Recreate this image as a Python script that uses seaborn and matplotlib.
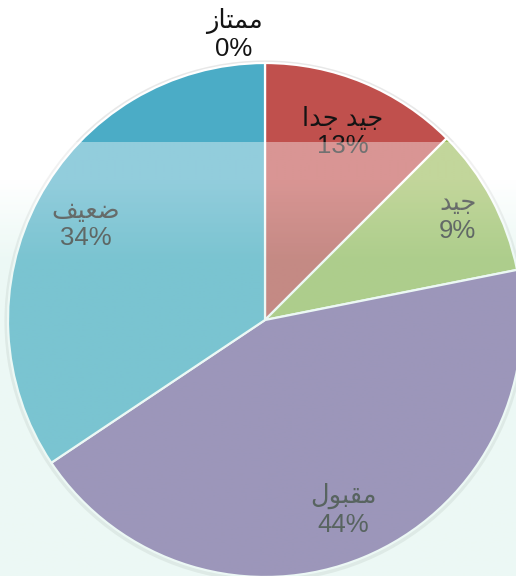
import numpy as np
import matplotlib
matplotlib.use("Agg")
import matplotlib.pyplot as plt
import seaborn as sns

# grades (logical Arabic text), student counts and pie colours
categories = ["ممتاز", "جيد جدا", "جيد", "مقبول", "ضعيف"]
counts = [0, 4, 3, 14, 11]
colors = ["#4F81BD", "#C0504D", "#9BBB59", "#8064A2", "#4BACC6"]

# Arabic letter forms: isolated, final, initial, medial
FORMS = {
    "ا": ("\uFE8D", "\uFE8E", None, None),
    "ب": ("\uFE8F", "\uFE90", "\uFE91", "\uFE92"),
    "ت": ("\uFE95", "\uFE96", "\uFE97", "\uFE98"),
    "ج": ("\uFE9D", "\uFE9E", "\uFE9F", "\uFEA0"),
    "د": ("\uFEA9", "\uFEAA", None, None),
    "ز": ("\uFEAF", "\uFEB0", None, None),
    "ض": ("\uFEBD", "\uFEBE", "\uFEBF", "\uFEC0"),
    "ع": ("\uFEC9", "\uFECA", "\uFECB", "\uFECC"),
    "ف": ("\uFED1", "\uFED2", "\uFED3", "\uFED4"),
    "ق": ("\uFED5", "\uFED6", "\uFED7", "\uFED8"),
    "ل": ("\uFEDD", "\uFEDE", "\uFEDF", "\uFEE0"),
    "م": ("\uFEE1", "\uFEE2", "\uFEE3", "\uFEE4"),
    "و": ("\uFEED", "\uFEEE", None, None),
    "ي": ("\uFEF1", "\uFEF2", "\uFEF3", "\uFEF4"),
}


def shape(word):
    # matplotlib has no Arabic shaping / bidi, so do it by hand
    out = []
    for i, ch in enumerate(word):
        if ch not in FORMS:
            out.append(ch)
            continue
        prev = word[i - 1] if i > 0 else None
        nxt = word[i + 1] if i + 1 < len(word) else None
        join_prev = prev in FORMS and FORMS[prev][2] is not None
        join_next = nxt in FORMS and FORMS[ch][2] is not None
        iso, fin, ini, med = FORMS[ch]
        if join_prev and join_next:
            out.append(med)
        elif join_prev:
            out.append(fin)
        elif join_next:
            out.append(ini)
        else:
            out.append(iso)
    return "".join(reversed(out))


sns.set_theme(style="white")
plt.rcParams["font.family"] = ["Liberation Sans", "DejaVu Sans"]

W, H = 516, 576
fig = plt.figure(figsize=(W / 100, H / 100), dpi=100)
ax = fig.add_axes([0, 0, 1, 1])

cx, cy, r = 265, H - 320, 257

# soft shadow round the pie
ax.add_patch(plt.Circle((cx, cy - 1), r + 1.5, facecolor="none",
                        edgecolor="#9a9a9a", lw=3, alpha=0.22, zorder=1))

wedges, _ = ax.pie(counts, colors=colors, startangle=90, counterclock=False,
                   center=(cx, cy), radius=r,
                   wedgeprops=dict(edgecolor="white", linewidth=1.6),
                   normalize=True)
for w in wedges:
    w.set_zorder(2)

total = sum(counts)
label_dist = [1.11, 0.79, 0.85, 0.80, 0.79]
for w, cat, n, d in zip(wedges, categories, counts, label_dist):
    ang = np.deg2rad((w.theta1 + w.theta2) / 2)
    pct = int(np.floor(100 * n / total + 0.5))
    x = cx + d * r * np.cos(ang)
    y = cy + d * r * np.sin(ang)
    if n == 0:
        x -= 31
    ax.text(x, y, f"{shape(cat)}\n{pct}%", ha="center", va="center",
            fontsize=18.5, color="#141414", linespacing=1.17,
            multialignment="center", zorder=3)

# washed-out watermark band over the lower part of the page
rows = 200
top_c = np.array([1.0, 1.0, 1.0, 0.40])
bot_c = np.array([205 / 255, 238 / 255, 228 / 255, 0.37])
t = np.clip((np.linspace(142, H, rows) - 180) / 80, 0, 1)[:, None]
grad = (1 - t) * top_c + t * bot_c
ax.imshow(grad[:, None, :], extent=(0, W, 0, H - 142), origin="upper",
          interpolation="bilinear", zorder=4, aspect="auto")

ax.set_xlim(0, W)
ax.set_ylim(0, H)
ax.set_axis_off()

plt.savefig("out.png", dpi=100)
plt.close()
